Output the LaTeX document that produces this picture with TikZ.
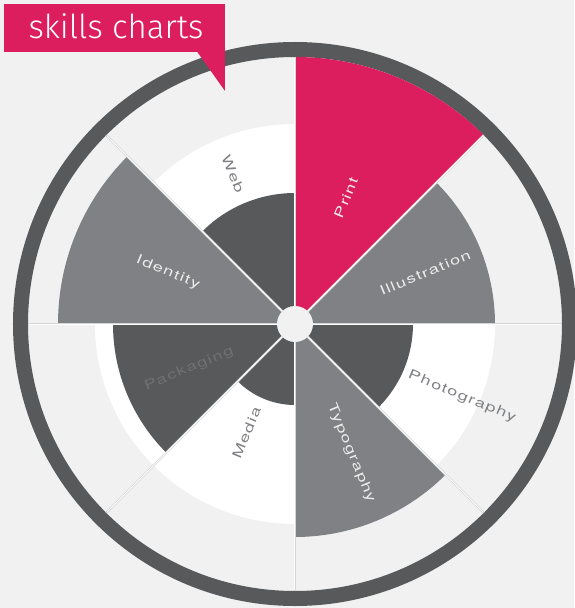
\documentclass[tikz,border=0pt]{standalone}
\usepackage{fontspec}
\setmainfont{TeX Gyre Heros}
\newfontfamily\labelfont[FakeStretch=1.4,LetterSpace=10]{TeX Gyre Heros}
\newfontfamily\titlefont{Fira Sans Light}
\definecolor{bgc}{RGB}{240,241,240}
\definecolor{ringc}{RGB}{88,89,91}
\definecolor{pinkc}{RGB}{220,29,94}
\definecolor{midc}{RGB}{128,129,132}
\definecolor{darkc}{RGB}{88,89,91}
\definecolor{divc}{RGB}{212,213,213}
\definecolor{lbldark}{RGB}{128,129,132}
\definecolor{lbllight}{RGB}{236,236,236}
\definecolor{lblpack}{RGB}{112,113,116}
\tikzset{
  lbl/.style={inner sep=0pt, font=\labelfont\fontsize{13}{15}\selectfont},
  divline/.style={draw=divc, line width=2.2pt},
  divinner/.style={draw=white, line width=1pt},
}
\begin{document}
\begin{tikzpicture}[x=1pt,y=1pt]
\useasboundingbox (-295,-284) rectangle (279,324);
\fill[bgc] (-295,-284) rectangle (279,324);
% outer ring
\draw[ringc, line width=15pt] (0,0) circle[radius=274.5];
% white disc
\fill[white] (0,0) circle[radius=200];
% wedges
\fill[pinkc] (0,0) -- (45:267) arc[start angle=45,end angle=90,radius=267] -- cycle;
\fill[midc]  (0,0) -- (0:200) arc[start angle=0,end angle=45,radius=200] -- cycle;
\fill[darkc] (0,0) -- (-45:118) arc[start angle=-45,end angle=0,radius=118] -- cycle;
\fill[midc]  (0,0) -- (-90:213) arc[start angle=-90,end angle=-45,radius=213] -- cycle;
\fill[darkc] (0,0) -- (-135:81) arc[start angle=-135,end angle=-90,radius=81] -- cycle;
\fill[darkc] (0,0) -- (180:182) arc[start angle=180,end angle=225,radius=182] -- cycle;
\fill[midc]  (0,0) -- (135:237) arc[start angle=135,end angle=180,radius=237] -- cycle;
\fill[darkc] (0,0) -- (90:131) arc[start angle=90,end angle=135,radius=131] -- cycle;
% dividers
\foreach \a in {0,45,...,315} {
  \draw[divline] (0,0) -- (\a:267);
  \draw[divinner] (0,0) -- (\a:266);
}
% hub
\fill[bgc] (0,0) circle[radius=18];
% labels
\node[lbl, text=lbldark, rotate=-67.5] (web) at (112.5:162) {Web};
\node[lbl, text=lbllight, rotate=67.5] (print) at (68:136) {Print};
\node[lbl, text=lbllight, rotate=22.5] (illu) at (21.5:140) {Illustration};
\node[lbl, text=lbldark, rotate=-22.5] (photo) at (-23.5:182) {Photography};
\node[lbl, text=lbllight, rotate=-67.5] (typo) at (-66.5:141) {Typography};
\node[lbl, text=lbldark, rotate=67.5] (media) at (-114:119) {Media};
\node[lbl, text=lblpack, rotate=22.5] (pack) at (-157:115) {Packaging};
\node[lbl, text=lbllight, rotate=-22.5] (ident) at (158:137) {Identity};
% title
\fill[pinkc] (-291,320) rectangle (-70,272);
\fill[pinkc] (-98,272.5) -- (-70,272.5) -- (-70,233) -- cycle;
\node[anchor=base, text=white, inner sep=0pt, font=\titlefont\fontsize{33}{38}\selectfont] (title) at (-179,285) {skills charts};
\end{tikzpicture}
\end{document}
